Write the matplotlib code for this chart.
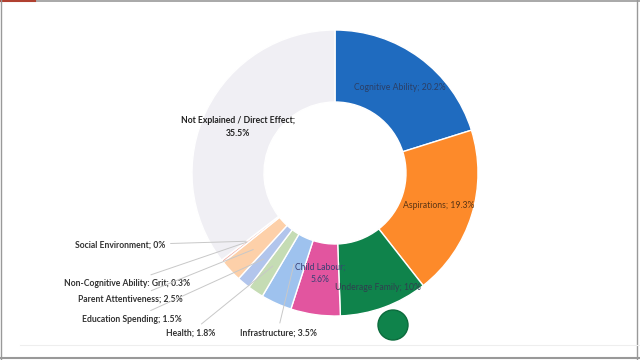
import numpy as np
import matplotlib.pyplot as plt
from matplotlib.patches import Circle

plt.rcParams['font.family'] = ['Lato', 'DejaVu Sans']

# данные с диаграммы (по часовой стрелке от 12 часов)
names = ["Cognitive Ability", "Aspirations", "Underage Family", "Child Labour",
         "Infrastructure", "Health", "Education Spending", "Parent Attentiveness",
         "Non-Cognitive Ability: Grit", "Social Environment",
         "Not Explained / Direct Effect"]
values = [20.2, 19.3, 10, 5.6, 3.5, 1.8, 1.5, 2.5, 0.3, 0, 35.5]
colors = ["#1F6BBF", "#FD8A2A", "#0F834B", "#E2559F", "#9EC2EE", "#C5DCB4",
          "#B2C5EC", "#FDD0A9", "#F3B9B0", "#F3B9B0", "#F0EFF4"]

fig = plt.figure(figsize=(6.4, 3.6), dpi=100)
ax = fig.add_axes([0, 0, 1, 1])

cx, cy, R = 335, 187, 143
wedges, _ = ax.pie(values, colors=colors, startangle=90, counterclock=False,
                   center=(cx, cy), radius=R,
                   wedgeprops=dict(width=72, edgecolor="white", linewidth=1))
ax.set_xlim(0, 640)
ax.set_ylim(0, 360)
ax.set_aspect("equal")
ax.axis("off")

fs = 6.2


def mid(i, r):
    w = wedges[i]
    a = np.deg2rad((w.theta1 + w.theta2) / 2)
    return cx + r * np.cos(a), cy + r * np.sin(a)


def lab(i):
    return f"{names[i]}; {values[i]:g}%"


# подписи внутри кольца
ax.text(400, 273, lab(0), fontsize=fs, color="#2B3F66", ha="center", va="center")
ax.text(439, 154, lab(1), fontsize=fs, color="#5A3414", ha="center", va="center")
ax.text(378, 72, lab(2), fontsize=fs, color="#2F3F4F", ha="center", va="center")
ax.text(320, 87, f"{names[3]};\n{values[3]:g}%", fontsize=fs, color="#3A3F74",
        ha="center", va="center", linespacing=1.5)
ax.text(238, 233, f"{names[10]};\n{values[10]:g}%", fontsize=fs, color="#222222",
        fontweight="bold", ha="center", va="center", linespacing=1.5)

# подписи с выносками
outer = {9: (165, 115), 8: (190, 77), 7: (183, 61), 6: (182, 41), 5: (215, 27)}
for i, (tx, ty) in outer.items():
    ax.annotate(lab(i), xy=mid(i, 112), xytext=(tx, ty), fontsize=fs,
                fontweight="bold", color="#333333", ha="right", va="center",
                arrowprops=dict(arrowstyle="-", color="#C8C8C8", lw=0.7,
                                shrinkA=2, shrinkB=0))
ax.annotate(lab(4), xy=mid(4, 100), xytext=(240, 27), fontsize=fs,
            fontweight="bold", color="#333333", ha="left", va="center",
            arrowprops=dict(arrowstyle="-", color="#C8C8C8", lw=0.7,
                            shrinkA=2, shrinkB=0, relpos=(0.5, 1)))

# зелёный кружок под диаграммой
ax.add_patch(Circle((393, 35), 15, facecolor="#0F834B", edgecolor="#0B6B3C", lw=1))

# рамка скриншота
ax.plot([0, 640], [359, 359], color="#999999", lw=1.2)
ax.plot([0, 35], [359, 359], color="#B04030", lw=1.5)
ax.plot([1, 1], [0, 360], color="#999999", lw=1)
ax.plot([637, 637], [0, 360], color="#999999", lw=1)
ax.plot([0, 640], [2, 2], color="#999999", lw=1.5)
ax.plot([20, 640], [15, 15], color="#EEEEEE", lw=0.8)

fig.savefig("out.png", dpi=100, facecolor="white")
